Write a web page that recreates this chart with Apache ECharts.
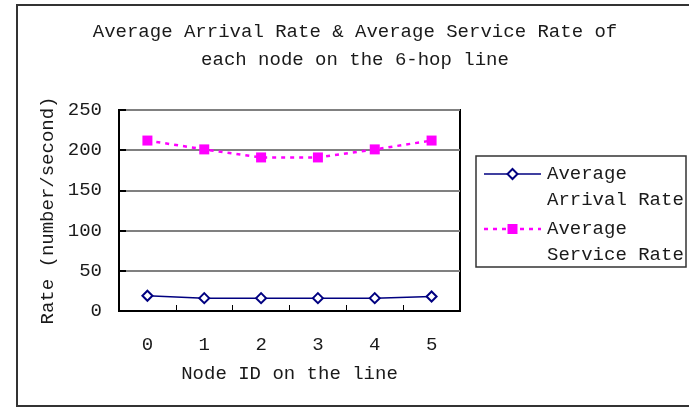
<!DOCTYPE html>
<html>
<head>
<meta charset="utf-8">
<script src="https://cdn.jsdelivr.net/npm/echarts@6/dist/echarts.min.js"></script>
<style>
  html, body { margin: 0; padding: 0; background: #fff; }
  #chart { width: 689px; height: 407px; }
</style>
</head>
<body>
<div id="chart"></div>
<script>
// Node IDs along the 6-hop line
const nodeIds = ['0', '1', '2', '3', '4', '5'];
// Rates in number/second
const arrivalRate = [19, 16, 16, 16, 16, 18];
const serviceRate = [212, 201, 191, 191, 201, 212];
const seriesNames = ['Average Arrival Rate', 'Average Service Rate'];
const titleLines = ['Average Arrival Rate & Average Service Rate of', 'each node on the 6-hop line'];
const xAxisTitle = 'Node ID on the line';
const yAxisTitle = 'Rate (number/second)';

const FONT = '"Liberation Mono", "DejaVu Sans Mono", monospace';
const TEXT = '#1a1a1a';
const NAVY = '#000080';
const MAGENTA = '#ff00ff';

const chart = echarts.init(document.getElementById('chart'), null, { renderer: 'canvas' });

// Legend drawn as a framed box with line + marker samples
const legendX = 476, legendY = 156, legendW = 210, legendH = 111;
const sampleX0 = 484, sampleX1 = 541, sampleMid = 512.5, textX = 547;
const rowY = [174, 229];
const lineH = 26;

const legendGraphics = [
  {
    type: 'rect',
    shape: { x: legendX, y: legendY, width: legendW, height: legendH },
    style: { fill: '#fff', stroke: '#333', lineWidth: 1.5 }
  },
  // arrival sample
  {
    type: 'line',
    shape: { x1: sampleX0, y1: rowY[0], x2: sampleX1, y2: rowY[0] },
    style: { stroke: NAVY, lineWidth: 1.5 }
  },
  {
    type: 'polygon',
    shape: { points: [[sampleMid, rowY[0] - 5], [sampleMid + 5, rowY[0]], [sampleMid, rowY[0] + 5], [sampleMid - 5, rowY[0]]] },
    style: { fill: '#fff', stroke: NAVY, lineWidth: 2 }
  },
  {
    type: 'text',
    x: textX, y: rowY[0] - lineH / 2,
    style: {
      text: seriesNames[0].replace(' ', '\n'),
      font: '19px ' + FONT, fill: TEXT, lineHeight: lineH,
      align: 'left', verticalAlign: 'top'
    }
  },
  // service sample
  {
    type: 'line',
    shape: { x1: sampleX0, y1: rowY[1], x2: sampleX1, y2: rowY[1] },
    style: { stroke: MAGENTA, lineWidth: 2.5, lineDash: [4, 5] }
  },
  {
    type: 'rect',
    shape: { x: sampleMid - 5, y: rowY[1] - 5, width: 10, height: 10 },
    style: { fill: MAGENTA }
  },
  {
    type: 'text',
    x: textX, y: rowY[1] - lineH / 2,
    style: {
      text: seriesNames[1].replace(' ', '\n'),
      font: '19px ' + FONT, fill: TEXT, lineHeight: lineH,
      align: 'left', verticalAlign: 'top'
    }
  }
];

const option = {
  backgroundColor: '#fff',
  animation: false,
  title: {
    text: titleLines.join('\n'),
    left: 355,
    top: 18,
    padding: 0,
    textAlign: 'center',
    textStyle: {
      fontFamily: FONT, fontSize: 19, fontWeight: 'normal',
      color: TEXT, lineHeight: 28
    }
  },
  grid: {
    left: 119, top: 110, right: 229, bottom: 96,
    show: true, borderColor: '#000', borderWidth: 2,
    containLabel: false
  },
  xAxis: {
    type: 'category',
    data: nodeIds,
    boundaryGap: true,
    name: xAxisTitle,
    nameLocation: 'middle',
    nameGap: 53,
    nameTextStyle: { fontFamily: FONT, fontSize: 19, color: TEXT },
    axisLine: { show: true, lineStyle: { color: '#000', width: 2 } },
    axisTick: { show: true, inside: true, length: 6, alignWithLabel: false, lineStyle: { color: '#000', width: 1 } },
    axisLabel: { margin: 24, fontFamily: FONT, fontSize: 19, color: TEXT },
    splitLine: { show: false }
  },
  yAxis: {
    type: 'value',
    min: 0, max: 250, interval: 50,
    name: yAxisTitle,
    nameLocation: 'middle',
    nameGap: 62,
    nameRotate: 90,
    nameTextStyle: { fontFamily: FONT, fontSize: 19, color: TEXT },
    axisLine: { show: true, lineStyle: { color: '#000', width: 2 } },
    axisTick: { show: true, inside: true, length: 7, lineStyle: { color: '#000', width: 2 } },
    axisLabel: { margin: 17, fontFamily: FONT, fontSize: 19, color: TEXT },
    splitLine: { show: true, lineStyle: { color: '#808080', width: 2 } }
  },
  series: [
    {
      name: seriesNames[0],
      type: 'line',
      data: arrivalRate,
      symbol: 'emptyDiamond',
      symbolSize: 10,
      lineStyle: { color: NAVY, width: 1.5 },
      itemStyle: { color: NAVY, borderColor: NAVY, borderWidth: 2 },
      z: 3
    },
    {
      name: seriesNames[1],
      type: 'line',
      data: serviceRate,
      symbol: 'rect',
      symbolSize: 10,
      lineStyle: { color: MAGENTA, width: 2.5, type: [4, 5] },
      itemStyle: { color: MAGENTA },
      z: 3
    }
  ],
  graphic: [
    {
      type: 'rect',
      shape: { x: 17, y: 5, width: 700, height: 401 },
      style: { fill: null, stroke: '#333', lineWidth: 2 },
      silent: true
    },
    ...legendGraphics
  ]
};

chart.setOption(option);
</script>
</body>
</html>
